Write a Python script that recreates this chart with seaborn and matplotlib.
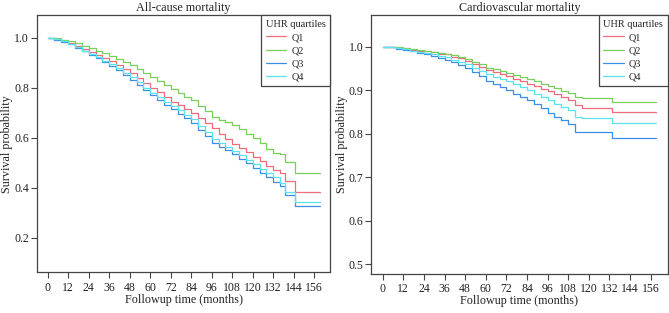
import numpy as np
import pandas as pd
import matplotlib
matplotlib.use("Agg")
import matplotlib.pyplot as plt
import seaborn as sns

# ---------------- data ----------------
quartiles = ["Q1", "Q2", "Q3", "Q4"]
colors = {"Q1": "#EE6B7B", "Q2": "#78CF5A", "Q3": "#3A8EE6", "Q4": "#5CE3F0"}

times_all = [0, 4, 8, 12, 16, 20, 24, 28, 32, 36, 40, 44, 48, 52, 56, 60, 64, 68, 72,
             76, 80, 84, 88, 92, 96, 100, 104, 108, 112, 116, 120, 124, 128, 132, 136,
             139, 144.7, 159.5]
all_q1 = [1.0, 0.995, 0.988, 0.98, 0.968, 0.956, 0.944, 0.932, 0.92, 0.907, 0.891, 0.876,
          0.86, 0.84, 0.82, 0.80, 0.782, 0.763, 0.745, 0.73, 0.715, 0.70, 0.679, 0.659,
          0.638, 0.617, 0.596, 0.575, 0.558, 0.542, 0.525, 0.506, 0.487, 0.472, 0.46,
          0.426, 0.383, 0.383]
all_q2 = [1.0, 0.997, 0.992, 0.985, 0.977, 0.967, 0.958, 0.948, 0.938, 0.927, 0.915, 0.902,
          0.89, 0.875, 0.86, 0.845, 0.828, 0.812, 0.795, 0.781, 0.765, 0.75, 0.728, 0.706,
          0.684, 0.673, 0.662, 0.65, 0.634, 0.617, 0.60, 0.578, 0.555, 0.54, 0.537,
          0.505, 0.46, 0.46]
all_q3 = [1.0, 0.992, 0.983, 0.973, 0.959, 0.946, 0.932, 0.917, 0.902, 0.887, 0.869, 0.851,
          0.833, 0.812, 0.791, 0.77, 0.752, 0.733, 0.715, 0.697, 0.678, 0.66, 0.633, 0.607,
          0.58, 0.565, 0.55, 0.535, 0.517, 0.498, 0.48, 0.461, 0.442, 0.425, 0.406,
          0.371, 0.327, 0.327]
all_q4 = [1.0, 0.993, 0.985, 0.975, 0.962, 0.948, 0.935, 0.921, 0.907, 0.893, 0.877, 0.86,
          0.844, 0.822, 0.801, 0.78, 0.763, 0.745, 0.728, 0.71, 0.693, 0.675, 0.648, 0.622,
          0.595, 0.579, 0.564, 0.548, 0.53, 0.513, 0.495, 0.477, 0.459, 0.442, 0.42,
          0.384, 0.344, 0.344]

times_cv = [0, 4, 8, 12, 16, 20, 24, 28, 32, 36, 40, 44, 48, 52, 56, 60, 64, 68, 72,
            76, 80, 84, 88, 92, 96, 100, 104, 108, 112, 116, 120, 124, 128, 133.3, 159.1]
cv_q1 = [1.0, 0.998, 0.997, 0.995, 0.993, 0.991, 0.989, 0.987, 0.984, 0.982, 0.977, 0.973,
         0.968, 0.961, 0.954, 0.947, 0.942, 0.937, 0.932, 0.926, 0.921, 0.915, 0.909, 0.903,
         0.897, 0.89, 0.884, 0.877, 0.866, 0.86, 0.859, 0.859, 0.859, 0.85, 0.85]
cv_q2 = [1.0, 0.999, 0.998, 0.996, 0.994, 0.992, 0.99, 0.988, 0.986, 0.984, 0.98, 0.976,
         0.972, 0.965, 0.959, 0.952, 0.948, 0.944, 0.94, 0.935, 0.93, 0.925, 0.92, 0.915,
         0.91, 0.904, 0.899, 0.893, 0.885, 0.881, 0.881, 0.881, 0.881, 0.873, 0.873]
cv_q3 = [1.0, 0.998, 0.995, 0.993, 0.989, 0.986, 0.982, 0.978, 0.974, 0.97, 0.964, 0.958,
         0.952, 0.942, 0.932, 0.922, 0.915, 0.907, 0.9, 0.892, 0.885, 0.877, 0.867, 0.858,
         0.848, 0.839, 0.831, 0.822, 0.803, 0.803, 0.803, 0.803, 0.803, 0.791, 0.791]
cv_q4 = [1.0, 0.998, 0.996, 0.994, 0.991, 0.988, 0.985, 0.982, 0.978, 0.975, 0.97, 0.965,
         0.96, 0.952, 0.945, 0.937, 0.931, 0.926, 0.92, 0.913, 0.907, 0.9, 0.892, 0.885,
         0.877, 0.869, 0.862, 0.854, 0.838, 0.835, 0.835, 0.835, 0.835, 0.824, 0.824]

x_ticks = list(range(0, 157, 12))
y_ticks_all = [0.2, 0.4, 0.6, 0.8, 1.0]
y_ticks_cv = [0.5, 0.6, 0.7, 0.8, 0.9, 1.0]
titles = ["All-cause mortality", "Cardiovascular mortality"]


def long_df(times, series):
    rows = []
    for q, vals in zip(quartiles, series):
        for t, v in zip(times, vals):
            rows.append({"time": t, "surv": v, "group": q})
    return pd.DataFrame(rows)


df_all = long_df(times_all, [all_q1, all_q2, all_q3, all_q4])
df_cv = long_df(times_cv, [cv_q1, cv_q2, cv_q3, cv_q4])

# ---------------- style ----------------
sns.set_theme(style="ticks")
plt.rcParams["font.family"] = ["Liberation Serif", "DejaVu Serif"]
plt.rcParams["font.size"] = 8
plt.rcParams["axes.edgecolor"] = "#444444"
plt.rcParams["xtick.color"] = "#444444"
plt.rcParams["ytick.color"] = "#444444"
plt.rcParams["xtick.labelcolor"] = "#222222"
plt.rcParams["ytick.labelcolor"] = "#222222"

fig = plt.figure(figsize=(6.69, 3.13), dpi=100)
ax1 = fig.add_axes([0.0549, 0.1294, 0.4388, 0.8217])
ax2 = fig.add_axes([0.5546, 0.1256, 0.4434, 0.8255])

specs = [
    (ax1, df_all, y_ticks_all, (0.0616, 1.0896), (-6.4, 165.4), -0.100),
    (ax2, df_cv, y_ticks_cv, (0.478, 1.072), (-6.8, 165.9), -0.098),
]

for i, (ax, df, yt, ylim, xlim, ylab_x) in enumerate(specs):
    sns.lineplot(data=df, x="time", y="surv", hue="group", hue_order=quartiles,
                 palette=colors, estimator=None, sort=False, drawstyle="steps-post",
                 linewidth=0.9, ax=ax)
    ax.set_xlim(*xlim)
    ax.set_ylim(*ylim)
    ax.set_xticks(x_ticks)
    ax.set_xticklabels([str(t) for t in x_ticks])
    ax.set_yticks(yt)
    ax.set_yticklabels([f"{v:.1f}" for v in yt])
    ax.tick_params(axis="x", direction="out", length=4, width=0.8, pad=2.5,
                   labelsize=8.5)
    ax.tick_params(axis="y", direction="out", length=4, width=0.8, pad=1.5,
                   labelsize=8.5)
    for sp in ax.spines.values():
        sp.set_visible(True)
        sp.set_linewidth(0.9)
        sp.set_color("#444444")
    ax.set_xlabel("Followup time (months)", fontsize=8.7, color="#222222")
    ax.set_ylabel("Survival probability", fontsize=8.7, color="#222222")
    ax.xaxis.set_label_coords(0.5, -0.082)
    ax.yaxis.set_label_coords(ylab_x, 0.5)
    ax.yaxis.label.set_va("center")
    ax.set_title(titles[i], fontsize=8.7, pad=3, color="#222222")
    leg = ax.legend(title="UHR quartiles", loc="upper right", frameon=True,
                    fancybox=False, framealpha=1, edgecolor="#444444",
                    borderaxespad=0, fontsize=7.4, title_fontsize=7.4,
                    handlelength=2.0, handletextpad=0.5, labelspacing=0.38,
                    borderpad=0.45)
    leg.get_frame().set_linewidth(0.9)
    leg._legend_box.align = "left"

fig.savefig("out.png", dpi=100)
